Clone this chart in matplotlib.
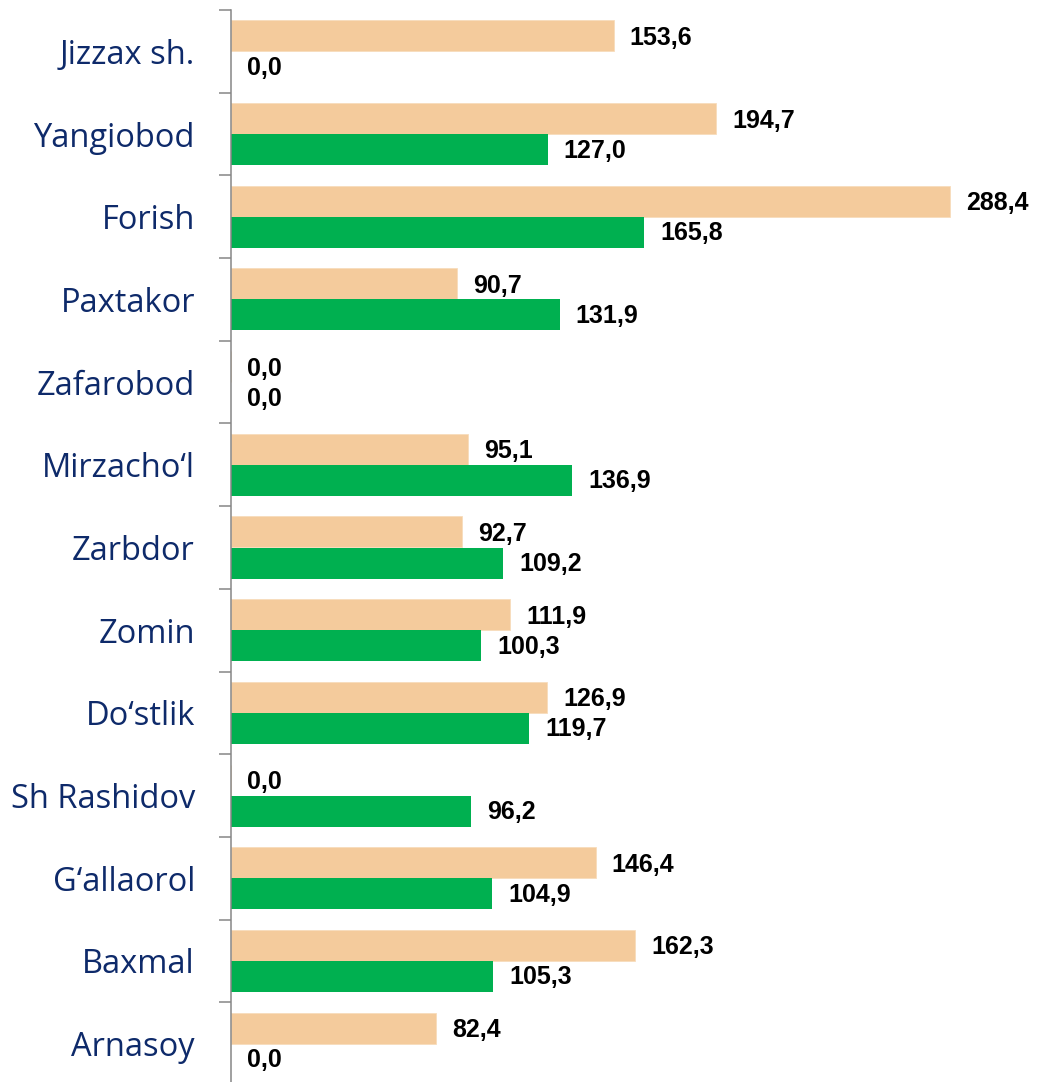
import numpy as np
import matplotlib
matplotlib.use("Agg")
import matplotlib.pyplot as plt

# data (top to bottom as in picture)
districts = ["Jizzax sh.", "Yangiobod", "Forish", "Paxtakor", "Zafarobod", "Mirzacho\u2018l",
             "Zarbdor", "Zomin", "Do\u2018stlik", "Sh Rashidov", "G\u2018allaorol", "Baxmal", "Arnasoy"]
series_a = [153.6, 194.7, 288.4, 90.7, 0.0, 95.1, 92.7, 111.9, 126.9, 0.0, 146.4, 162.3, 82.4]
series_b = [0.0, 127.0, 165.8, 131.9, 0.0, 136.9, 109.2, 100.3, 119.7, 96.2, 104.9, 105.3, 0.0]

col_a = "#F4CB9C"
col_b = "#00B050"
grey = "#868686"

fig = plt.figure(figsize=(10.39, 10.82), dpi=100)
ax = fig.add_axes([231 / 1039, -3 / 1082, 1 - 231 / 1039, 1075 / 1082])

n = len(districts)
y = np.arange(n)
h = 0.375
ax.barh(y - h / 2, series_a, height=h, color=col_a, edgecolor="#F7DCBC", linewidth=0.6)
ax.barh(y + h / 2, series_b, height=h, color=col_b)

ax.set_ylim(n - 0.5, -0.5)
ax.set_xlim(0, 324.2)

for i in range(n):
    ax.annotate(f"{series_a[i]:.1f}".replace(".", ","), (series_a[i], y[i] - h / 2),
                xytext=(16, -2), textcoords="offset pixels", va="center", ha="left",
                fontsize=18, fontweight="bold", family="Liberation Sans", color="black")
    ax.annotate(f"{series_b[i]:.1f}".replace(".", ","), (series_b[i], y[i] + h / 2),
                xytext=(16, -1), textcoords="offset pixels", va="center", ha="left",
                fontsize=18, fontweight="bold", family="Liberation Sans", color="black")

# category boundaries as ticks, names at the centres
ax.set_yticks(np.arange(n + 1) - 0.5)
ax.set_yticklabels([])
ax.set_yticks(y, minor=True)
ax.set_yticklabels(districts, minor=True, fontsize=23.5, family="Open Sans", color="#0E2A6A")
ax.tick_params(axis="y", which="major", length=9, width=1.1, color=grey, direction="out")
ax.tick_params(axis="y", which="minor", length=0, pad=26)
ax.set_xticks([])

for s in ["top", "right", "bottom"]:
    ax.spines[s].set_visible(False)
ax.spines["left"].set_color(grey)
ax.spines["left"].set_linewidth(1.1)

plt.savefig("out.png", dpi=100)
